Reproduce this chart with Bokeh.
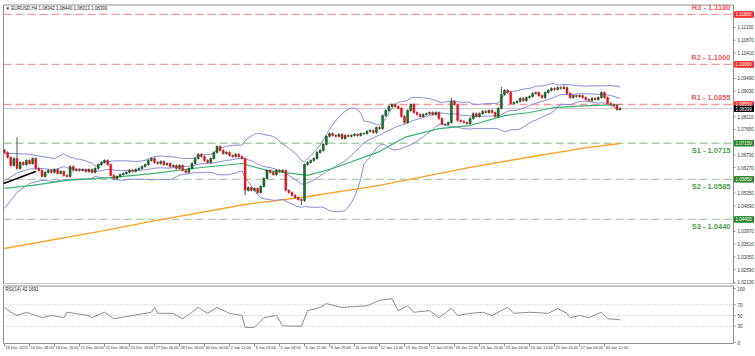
import numpy as np
import pandas as pd
from bokeh.plotting import figure
from bokeh.models import ColumnDataSource, Range1d
from bokeh.layouts import column
from bokeh.embed import file_html
from bokeh.resources import INLINE
from bokeh.core.properties import value

# ---------------- data ----------------
header_text = "\u25bc EURUSD,H4  1.08342 1.08440 1.08313 1.08399"
last_quote = 1.08399
first_open = 1.0690

closes = [
    1.0682, 1.0664, 1.0635, 1.0660, 1.0624, 1.0646, 1.0638, 1.0653, 1.0642, 1.0660,
    1.0624, 1.0617, 1.0595, 1.0610, 1.0617, 1.0610, 1.0620, 1.0606, 1.0613, 1.0599,
    1.0595, 1.0631, 1.0617, 1.0620, 1.0617, 1.0620, 1.0613, 1.0620, 1.0610, 1.0624,
    1.0638, 1.0646, 1.0653, 1.0638, 1.0599, 1.0588, 1.0595, 1.0602, 1.0606, 1.0610,
    1.0617, 1.0613, 1.0620, 1.0624, 1.0631, 1.0638, 1.0653, 1.0660, 1.0646, 1.0642,
    1.0649, 1.0638, 1.0642, 1.0631, 1.0635, 1.0624, 1.0635, 1.0617, 1.0610, 1.0624,
    1.0642, 1.0660, 1.0675, 1.0667, 1.0653, 1.0646, 1.0660, 1.0682, 1.0703, 1.0689,
    1.0678, 1.0682, 1.0671, 1.0667, 1.0675, 1.0667, 1.0660, 1.0545, 1.0555, 1.0545,
    1.0552, 1.0537, 1.0559, 1.0588, 1.0617, 1.0610, 1.0602, 1.0617, 1.0613, 1.0617,
    1.0545, 1.0537, 1.0527, 1.0519, 1.0512, 1.0508, 1.0638, 1.0646, 1.0653, 1.0660,
    1.0682, 1.0689, 1.0711, 1.0740, 1.0750, 1.0743, 1.0740, 1.0747, 1.0732, 1.0743,
    1.0740, 1.0743, 1.0747, 1.0743, 1.0750, 1.0750, 1.0758, 1.0761, 1.0754, 1.0772,
    1.0768, 1.0815, 1.0833, 1.0848, 1.0855, 1.0848, 1.0841, 1.0812, 1.0790, 1.0833,
    1.0855, 1.0826, 1.0819, 1.0812, 1.0819, 1.0822, 1.0826, 1.0819, 1.0826, 1.0804,
    1.0783, 1.0783, 1.0790, 1.0866, 1.0855, 1.0797, 1.0794, 1.0790, 1.0786, 1.0804,
    1.0822, 1.0812, 1.0822, 1.0830, 1.0826, 1.0833, 1.0826, 1.0812, 1.0841, 1.0891,
    1.0906, 1.0898, 1.0859, 1.0862, 1.0866, 1.0877, 1.0869, 1.0880, 1.0884, 1.0895,
    1.0898, 1.0887, 1.0880, 1.0898, 1.0906, 1.0913, 1.0909, 1.0916, 1.0913, 1.0916,
    1.0895, 1.0880, 1.0887, 1.0884, 1.0887, 1.0880, 1.0873, 1.0869, 1.0877, 1.0873,
    1.0880, 1.0898, 1.0880, 1.0859, 1.0855, 1.0851, 1.0837, 1.0840,
]

wick_pad = 0.0004
wick_hi_bars = [4, 143, 159, 179]
wick_hi_vals = [1.0736, 1.0878, 1.0918, 1.0925]
wick_lo_bars = [77, 95]
wick_lo_vals = [1.0528, 1.0492]

bb_period = 20
bb_head_bars = [0, 4, 8, 12, 16]
bb_head_upper = [1.0678, 1.0678, 1.0675, 1.0667, 1.0660]
bb_head_mid = [1.0579, 1.0608, 1.0622, 1.0624, 1.0619]
bb_head_lower = [1.0480, 1.0537, 1.0570, 1.0581, 1.0577]

ma_green_bars = [0, 9, 20, 34, 48, 60, 76, 84, 97, 105, 120, 128, 139, 149, 160, 168, 176, 187, 197]
ma_green_vals = [1.0552, 1.0563, 1.0581, 1.0591, 1.0606, 1.0624, 1.0642, 1.0617, 1.0599, 1.0624,
                 1.0685, 1.0736, 1.0768, 1.0779, 1.0815, 1.0826, 1.0844, 1.0851, 1.0855]

ma_orange_bars = [0, 31, 47, 77, 95, 120, 149, 171, 187, 197]
ma_orange_vals = [1.0335, 1.0398, 1.0433, 1.0494, 1.0519, 1.0563, 1.0628, 1.0671, 1.0700, 1.0714]

trend_bars = [-0.3, 10]
trend_vals = [1.0570, 1.0613]

level_names = ["R3", "R2", "R1", "S1", "S2", "S3"]
level_vals = [1.1180, 1.1000, 1.0855, 1.0715, 1.0585, 1.0440]

price_ticks = [1.0213, 1.0259, 1.0305, 1.0351, 1.0397, 1.0443, 1.0489, 1.0535, 1.0581,
               1.0627, 1.0673, 1.0719, 1.0765, 1.0811, 1.0857, 1.0903, 1.0949, 1.0995,
               1.1041, 1.1087, 1.1133]

rsi_title = "RSI(14) 42.1691"
rsi_bars = [0, 2, 4, 7, 12, 15, 19, 20, 27, 28, 32, 35, 41, 47, 48, 49, 54, 57, 60, 62,
            65, 68, 72, 76, 77, 80, 83, 87, 89, 95, 97, 101, 103, 108, 116, 120, 124, 126,
            129, 131, 136, 139, 143, 145, 149, 153, 156, 161, 163, 168, 174, 177, 180, 181,
            184, 187, 191, 193, 197]
rsi_vals = [65, 56, 50, 56, 46, 50, 46, 56, 50, 46, 56, 44, 50, 56, 65, 54, 54, 44, 56, 65,
            54, 65, 54, 50, 28, 28, 46, 50, 31, 30, 59, 65, 72, 65, 68, 78, 81, 59,
            68, 56, 59, 46, 63, 50, 54, 56, 50, 65, 54, 56, 54, 63, 54, 46,
            50, 46, 56, 44, 42]
rsi_ticks = [0, 30, 50, 70, 100]
rsi_levels = [30, 50, 70]

xlabel_bars = list(range(0, 200, 8))
xlabel_texts = ["16 Dec 2022", "16 Dec 08:00", "19 Dec 16:00", "21 Dec 00:00", "22 Dec 08:00",
                "23 Dec 16:00", "27 Dec 00:00", "28 Dec 16:00", "30 Dec 00:00", "2 Jan 12:00",
                "3 Jan 20:00", "5 Jan 04:00", "6 Jan 12:00", "9 Jan 20:00", "11 Jan 04:00",
                "12 Jan 12:00", "13 Jan 20:00", "17 Jan 04:00", "18 Jan 12:00", "19 Jan 20:00",
                "23 Jan 04:00", "24 Jan 12:00", "25 Jan 20:00", "27 Jan 04:00", "30 Jan 12:00"]

# ---------------- derived ----------------
n = len(closes)
bars = np.arange(n)
c = np.array(closes)
o = np.concatenate([[first_open], c[:-1]])
hi = np.maximum(o, c) + wick_pad
lo = np.minimum(o, c) - wick_pad
for b, v in zip(wick_hi_bars, wick_hi_vals):
    hi[b] = max(hi[b], v)
for b, v in zip(wick_lo_bars, wick_lo_vals):
    lo[b] = min(lo[b], v)
up = c >= o
body_top = np.maximum(o, c)
body_bot = np.minimum(o, c)
body_bot = np.where(body_top - body_bot < 0.00008, body_top - 0.00008, body_bot)

s = pd.Series(c)
bb_mid = s.rolling(bb_period).mean()
bb_sd = s.rolling(bb_period).std(ddof=0)
bb_up = bb_mid + 2 * bb_sd
bb_lo = bb_mid - 2 * bb_sd
start = bb_period - 1
bb_x = list(bb_head_bars) + list(bars[start:])
bb_u = list(bb_head_upper) + list(bb_up[start:])
bb_m = list(bb_head_mid) + list(bb_mid[start:])
bb_l = list(bb_head_lower) + list(bb_lo[start:])

FONT = value("Liberation Sans")
SMALL = value("4.5px")
TINY = value("3.9px")

# pixel geometry (3.125 px per bar, bar 0 at x=4)
PX_PER_BAR = 3.125
def bx(px):
    return (px - 4) / PX_PER_BAR

XL, XR = bx(0), bx(755)
LX = bx(3)          # left border
AX = bx(733)        # price axis line
W = 755

# price panel: y pixel -> price
P_PER_PX = 0.000361
P_AT_0 = 1.12304
def py(px):
    return P_AT_0 - P_PER_PX * px

# ---------------- main price panel ----------------
p1 = figure(width=W, height=284, x_range=Range1d(XL, XR), y_range=Range1d(py(284), py(0)),
            x_axis_location=None, y_axis_location=None, toolbar_location=None,
            output_backend="svg", min_border=0)
p1.grid.visible = False
p1.outline_line_color = None
p1.background_fill_color = "white"
p1.border_fill_color = "white"

# frame borders and axis line
p1.segment(x0=[LX, LX, AX, LX], y0=[py(4.5), py(4.5), py(4.5), py(283.5)],
           x1=[AX, LX, AX, AX], y1=[py(4.5), py(283.5), py(283.5), py(283.5)],
           line_color="#8f8f8f", line_width=1)

# level lines
lvl_col = ["#f59a9a" if nm.startswith("R") else "#a9cfa9" for nm in level_names]
p1.segment(x0=[LX] * 6, y0=level_vals, x1=[AX] * 6, y1=level_vals,
           line_color=lvl_col, line_width=1.3, line_dash="8 4")
# current price line
p1.segment(x0=[LX], y0=[closes[-1]], x1=[AX], y1=[closes[-1]], line_color="#c8c8c8", line_width=1)

# indicators
p1.line(ma_orange_bars, ma_orange_vals, line_color="#ffa126", line_width=1.4)
p1.line(bb_x, bb_u, line_color="#8a8ad8", line_width=1)
p1.line(bb_x, bb_m, line_color="#8a8ad8", line_width=1)
p1.line(bb_x, bb_l, line_color="#8a8ad8", line_width=1)
p1.line(ma_green_bars, ma_green_vals, line_color="#3cb371", line_width=1.2)
p1.line(trend_bars, trend_vals, line_color="black", line_width=1.6)

# candles
src = ColumnDataSource(dict(x=bars, hi=hi, lo=lo, top=body_top, bot=body_bot,
                            col=np.where(up, "#127a2b", "#e3151d"),
                            lcol=np.where(up, "#0b3d14", "#e3151d")))
p1.segment(x0="x", y0="lo", x1="x", y1="hi", source=src, line_color="#555555", line_width=1)
p1.vbar(x="x", width=0.62, top="top", bottom="bot", source=src,
        fill_color="col", line_color="lcol", line_width=0.5)

# price axis ticks + labels
p1.segment(x0=[AX] * len(price_ticks), y0=price_ticks,
           x1=[AX + 2 / PX_PER_BAR] * len(price_ticks), y1=price_ticks,
           line_color="#8f8f8f", line_width=1)
p1.text(x=[AX + 4 / PX_PER_BAR] * len(price_ticks), y=price_ticks,
        text=[f"{t:.5f}" for t in price_ticks], text_font=FONT, text_font_size=SMALL,
        text_align="left", text_baseline="middle", text_color="#333333")

# level texts
is_r = [nm.startswith("R") for nm in level_names]
lt_y = [lv + (2 * P_PER_PX if r else -3 * P_PER_PX) for lv, r in zip(level_vals, is_r)]
p1.text(x=[AX - 3 / PX_PER_BAR] * 6, y=lt_y,
        text=[f"{nm} - {lv:.4f}" for nm, lv in zip(level_names, level_vals)],
        text_font=FONT, text_font_size=value("7.5px"), text_font_style="bold",
        text_align="right", text_baseline=["bottom" if r else "top" for r in is_r],
        text_color=["#f05c5c" if r else "#4c9a4c" for r in is_r])

# boxes on price axis
box_vals = level_vals + [last_quote]
box_cols = ["#ff2a2a" if r else "#2a862a" for r in is_r] + ["#000000"]
p1.quad(left=[AX + 1 / PX_PER_BAR] * 7, right=[AX + 20 / PX_PER_BAR] * 7,
        top=[v + 2.8 * P_PER_PX for v in box_vals], bottom=[v - 2.8 * P_PER_PX for v in box_vals],
        fill_color=box_cols, line_color=box_cols)
p1.text(x=[AX + 2 / PX_PER_BAR] * 7, y=box_vals, text=[f"{v:.5f}" for v in box_vals],
        text_font=FONT, text_font_size=SMALL, text_align="left", text_baseline="middle",
        text_color="white")

# header
p1.text(x=[LX + 2 / PX_PER_BAR], y=[py(8)], text=[header_text], text_font=FONT,
        text_font_size=SMALL, text_align="left", text_baseline="middle", text_color="#222222")

# ---------------- RSI panel ----------------
def ry(px):
    return (342 - px) / 0.54

p2 = figure(width=W, height=72, x_range=p1.x_range, y_range=Range1d(ry(356), ry(284)),
            x_axis_location=None, y_axis_location=None, toolbar_location=None,
            output_backend="svg", min_border=0)
p2.grid.visible = False
p2.outline_line_color = None
p2.background_fill_color = "white"
p2.border_fill_color = "white"

p2.segment(x0=[LX, LX, AX, LX], y0=[ry(285.5), ry(285.5), ry(285.5), ry(343)],
           x1=[AX, LX, AX, AX], y1=[ry(285.5), ry(343), ry(343), ry(343)],
           line_color="#8f8f8f", line_width=1)
p2.segment(x0=[LX] * 3, y0=rsi_levels, x1=[AX] * 3, y1=rsi_levels,
           line_color="#bdbdbd", line_width=1, line_dash="1 2")

p2.line(rsi_bars, rsi_vals, line_color="#8c8c8c", line_width=1)

p2.segment(x0=[AX] * 5, y0=rsi_ticks, x1=[AX + 2 / PX_PER_BAR] * 5, y1=rsi_ticks,
           line_color="#8f8f8f", line_width=1)
p2.text(x=[AX + 4 / PX_PER_BAR] * 5, y=rsi_ticks, text=[str(t) for t in rsi_ticks],
        text_font=FONT, text_font_size=SMALL, text_align="left", text_baseline="middle",
        text_color="#333333")

p2.text(x=[LX + 2 / PX_PER_BAR], y=[ry(289)], text=[rsi_title], text_font=FONT,
        text_font_size=SMALL, text_align="left", text_baseline="middle", text_color="#222222")

# time axis ticks + labels
p2.segment(x0=xlabel_bars, y0=[ry(343)] * len(xlabel_bars), x1=xlabel_bars,
           y1=[ry(346)] * len(xlabel_bars), line_color="#8f8f8f", line_width=1)
p2.text(x=[b + 1 / PX_PER_BAR for b in xlabel_bars], y=[ry(346.5)] * len(xlabel_bars),
        text=xlabel_texts, text_font=FONT, text_font_size=TINY, text_align="left",
        text_baseline="middle", text_color="#333333")

layout = column(p1, p2)
open("out.html", "w").write(file_html(layout, INLINE))
